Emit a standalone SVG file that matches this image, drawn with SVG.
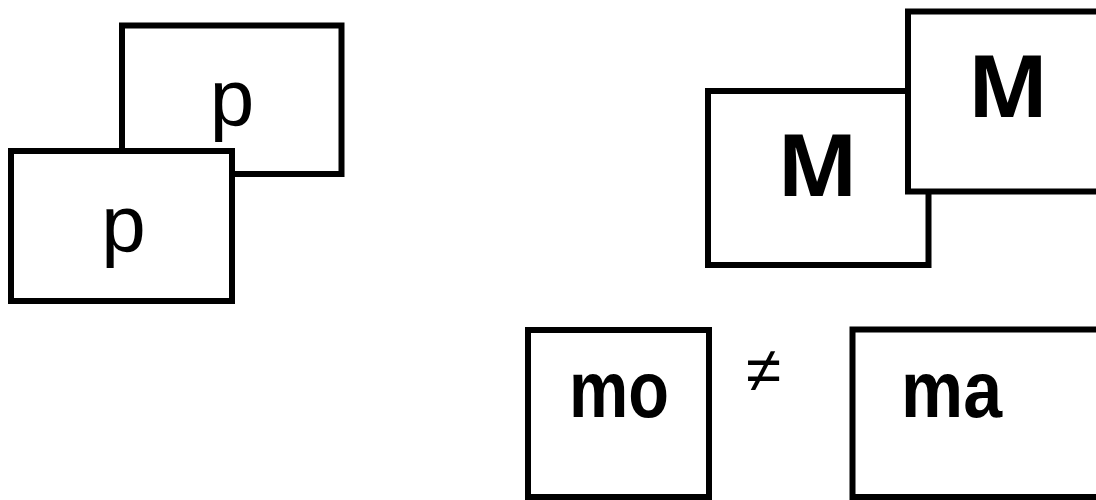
<svg xmlns="http://www.w3.org/2000/svg" width="1096" height="500" viewBox="0 0 1096 500">
<style>
.box{fill:#fff;stroke:#000;stroke-width:6}
.p{font-family:"Liberation Sans",Arial,sans-serif;font-size:80px;fill:#000;text-anchor:middle}
.M{font-family:"Open Sans","Liberation Sans",sans-serif;font-weight:700;font-size:86px;fill:#000;text-anchor:middle}
.w{font-family:"Liberation Sans",Arial,sans-serif;font-weight:700;font-size:80px;fill:#000;text-anchor:middle}
.ne{font-family:"Liberation Sans",Arial,sans-serif;font-size:64px;fill:#000;text-anchor:middle}
</style>
<rect width="1096" height="500" fill="#fff"/>
<g id="p-back">
<rect class="box" x="122" y="25.5" width="219.5" height="148.5"/>
<text class="p" x="232" y="125">p</text>
</g>
<g id="p-front">
<rect class="box" x="11" y="151" width="221" height="150"/>
<text class="p" x="123.5" y="251">p</text>
</g>
<g id="M-left">
<rect class="box" x="708" y="91" width="220.5" height="174"/>
<text class="M" x="817.5" y="196">M</text>
</g>
<g id="M-right">
<rect class="box" x="908" y="11.5" width="200" height="180"/>
<text class="M" x="1008" y="116.5">M</text>
</g>
<g id="mo">
<rect class="box" x="528" y="330" width="181" height="167"/>
<text class="w" x="619" y="417" textLength="100" lengthAdjust="spacingAndGlyphs">mo</text>
</g>
<g id="neq">
<text class="ne" x="763.5" y="392">≠</text>
</g>
<g id="ma">
<rect class="box" x="852.5" y="329.5" width="260" height="167.5"/>
<text class="w" x="951.5" y="417" textLength="101" lengthAdjust="spacingAndGlyphs">ma</text>
</g>
</svg>
